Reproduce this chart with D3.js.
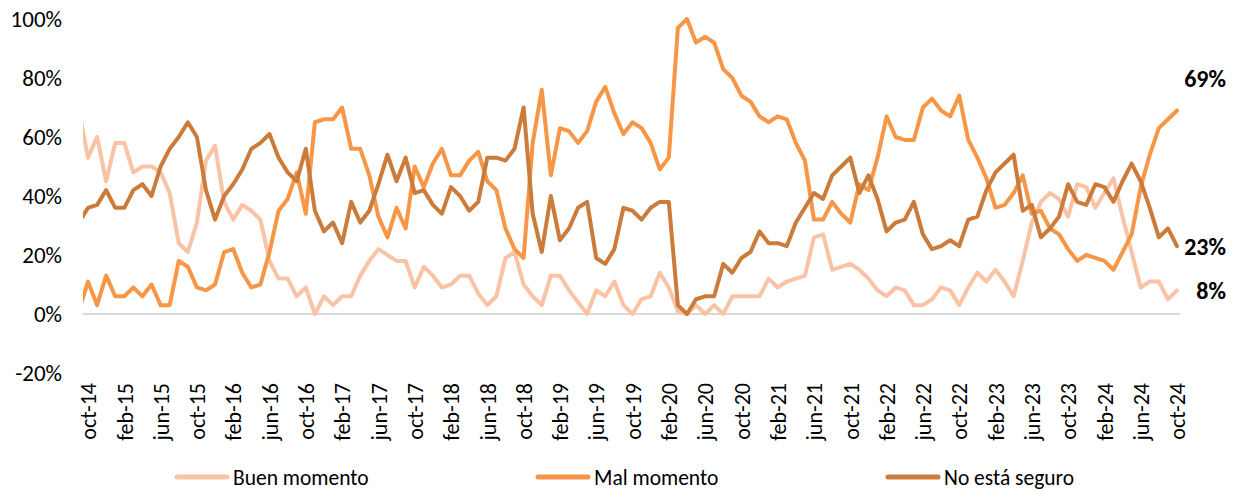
<!DOCTYPE html>
<html>
<head>
<meta charset="utf-8">
<script src="https://cdn.jsdelivr.net/npm/d3@7"></script>
<style>
	body { margin: 0; background: #fff; }
	text { font-family: Carlito, Calibri, Lato, sans-serif; fill: #000; }
</style>
</head>
<body>
<div id="viz"></div>
<script>

// Months run sep-14 .. oct-24. The sep-14 point sits left of the plot edge and gets clipped,
// it only gives the little stub the lines start with.
var MONTH_NAMES = ["ene", "feb", "mar", "abr", "may", "jun", "jul", "ago", "sep", "oct", "nov", "dic"];
var START = new Date(2014, 8, 1);
var END = new Date(2024, 10, 1);

var yTicks = [-20, 0, 20, 40, 60, 80, 100];

var seriesNames = ["Buen momento", "Mal momento", "No está seguro"];
var seriesColors = ["#FAC3A6", "#F79646", "#CB7B3A"];

var buenMomento = [69,
	53, 60, 45, 58, 58, 48, 50, 50, 48, 41,
	24, 21, 31, 52, 57, 38, 32, 37, 35, 32,
	18, 12, 12, 6, 9, 0, 6, 3, 6, 6,
	13, 18, 22, 20, 18, 18, 9, 16, 13, 9,
	10, 13, 13, 7, 3, 6, 19, 21, 10, 6,
	3, 13, 13, 8, 4, 0, 8, 6, 11, 3,
	0, 5, 6, 14, 9, 1, 0, 3, 0, 3,
	0, 6, 6, 6, 6, 12, 9, 11, 12, 13,
	26, 27, 15, 16, 17, 15, 12, 8, 6, 9,
	8, 3, 3, 5, 9, 8, 3, 9, 14, 11,
	15, 11, 6, 18, 31, 38, 41, 39, 33, 44,
	43, 36, 41, 46, 33, 21, 9, 11, 11, 5,
	8];

var malMomento = [1,
	11, 3, 13, 6, 6, 9, 6, 10, 3, 3,
	18, 16, 9, 8, 10, 21, 22, 14, 9, 10,
	21, 35, 39, 48, 34, 65, 66, 66, 70, 56,
	56, 47, 33, 26, 36, 29, 50, 43, 51, 56,
	47, 47, 52, 55, 45, 42, 29, 22, 19, 58,
	76, 47, 63, 62, 58, 62, 72, 77, 68, 61,
	65, 63, 58, 49, 53, 97, 100, 92, 94, 92,
	83, 80, 74, 72, 67, 65, 67, 66, 58, 52,
	32, 32, 38, 34, 31, 44, 42, 53, 67, 60,
	59, 59, 70, 73, 69, 67, 74, 59, 53, 46,
	36, 37, 41, 47, 34, 35, 29, 27, 22, 18,
	20, 19, 18, 15, 21, 27, 43, 54, 63, 66,
	69];

var noSeguro = [31,
	36, 37, 42, 36, 36, 42, 44, 40, 50, 56,
	60, 65, 60, 42, 32, 40, 44, 49, 56, 58,
	61, 53, 48, 45, 56, 35, 28, 31, 24, 38,
	31, 35, 44, 54, 45, 53, 41, 42, 37, 34,
	43, 40, 35, 38, 53, 53, 52, 56, 70, 34,
	21, 40, 25, 29, 36, 38, 19, 17, 22, 36,
	35, 32, 36, 38, 38, 3, 0, 5, 6, 6,
	17, 14, 19, 21, 28, 24, 24, 23, 31, 36,
	41, 39, 47, 50, 53, 41, 47, 39, 28, 31,
	32, 38, 27, 22, 23, 25, 23, 32, 33, 42,
	48, 51, 54, 35, 37, 26, 29, 33, 44, 38,
	37, 44, 43, 38, 45, 51, 45, 36, 26, 29,
	23];

var allSeries = [buenMomento, malMomento, noSeguro];

var WIDTH = 1237;
var HEIGHT = 492;
var LINE_WIDTH = 4;

var months = d3.timeMonth.range(START, END);
var monthLabel = function(d) {
	return MONTH_NAMES[d.getMonth()] + "-" + String(d.getFullYear()).slice(2);
};

// index 1 is oct-14, last index is oct-24
var x = d3.scaleLinear().domain([1, months.length - 1]).range([88, 1177]);
var y = d3.scaleLinear().domain([-20, 100]).range([373, 19]);

var svg = d3.select("#viz").append("svg")
	.attr("width", WIDTH)
	.attr("height", HEIGHT);

svg.append("defs").append("clipPath")
	.attr("id", "plot-clip")
	.append("rect")
	.attr("x", 83)
	.attr("y", 0)
	.attr("width", WIDTH - 83)
	.attr("height", HEIGHT);

// y axis, labels only
var yAxis = svg.append("g")
	.attr("transform", "translate(70,0)")
	.call(d3.axisLeft(y)
		.tickValues(yTicks)
		.tickSize(0)
		.tickPadding(8)
		.tickFormat(function(d) { return d + "%"; }));
yAxis.select(".domain").remove();
yAxis.selectAll("text")
	.attr("font-size", 23)
	.attr("font-family", null);

// zero line
svg.append("line")
	.attr("x1", 83)
	.attr("x2", 1180)
	.attr("y1", y(0))
	.attr("y2", y(0))
	.attr("stroke", "#D9D9D9")
	.attr("stroke-width", 2);

// x axis, one label every 4 months, rotated
var xAxis = svg.append("g")
	.attr("transform", "translate(0," + y(-20) + ")")
	.call(d3.axisBottom(x)
		.tickValues(d3.range(1, months.length, 4))
		.tickSize(0)
		.tickFormat(function(i) { return monthLabel(months[i]); }));
xAxis.select(".domain").remove();
xAxis.selectAll("text")
	.attr("font-size", 22)
	.attr("font-family", null)
	.attr("transform", "rotate(-90)")
	.attr("x", -10)
	.attr("y", 0)
	.attr("dy", "0.35em")
	.style("text-anchor", "end");

var line = d3.line()
	.x(function(d, i) { return x(i); })
	.y(function(d) { return y(d); });

var lines = svg.append("g").attr("clip-path", "url(#plot-clip)");
allSeries.forEach(function(values, k) {
	lines.append("path")
		.attr("d", line(values))
		.attr("fill", "none")
		.attr("stroke", seriesColors[k])
		.attr("stroke-width", LINE_WIDTH)
		.attr("stroke-linejoin", "round")
		.attr("stroke-linecap", "round");
});

// end labels, right aligned; the Mal momento one is lifted above its point
var last = months.length - 1;
var labelOffsets = [0, -32, 0];
allSeries.forEach(function(values, k) {
	var v = values[last];
	svg.append("text")
		.attr("x", x(last) + 49)
		.attr("y", y(v) + labelOffsets[k])
		.attr("dy", "0.35em")
		.attr("text-anchor", "end")
		.attr("font-size", 24)
		.attr("font-weight", "bold")
		.text(v + "%");
});

// legend
var legendX = [175, 536, 886];
var legend = svg.append("g").attr("transform", "translate(0,477)");
seriesNames.forEach(function(name, k) {
	legend.append("line")
		.attr("x1", legendX[k] + 2)
		.attr("x2", legendX[k] + 52)
		.attr("stroke", seriesColors[k])
		.attr("stroke-width", 5)
		.attr("stroke-linecap", "round");
	legend.append("text")
		.attr("x", legendX[k] + 58)
		.attr("dy", "0.35em")
		.attr("font-size", 21.5)
		.text(name);
});

</script>
</body>
</html>
